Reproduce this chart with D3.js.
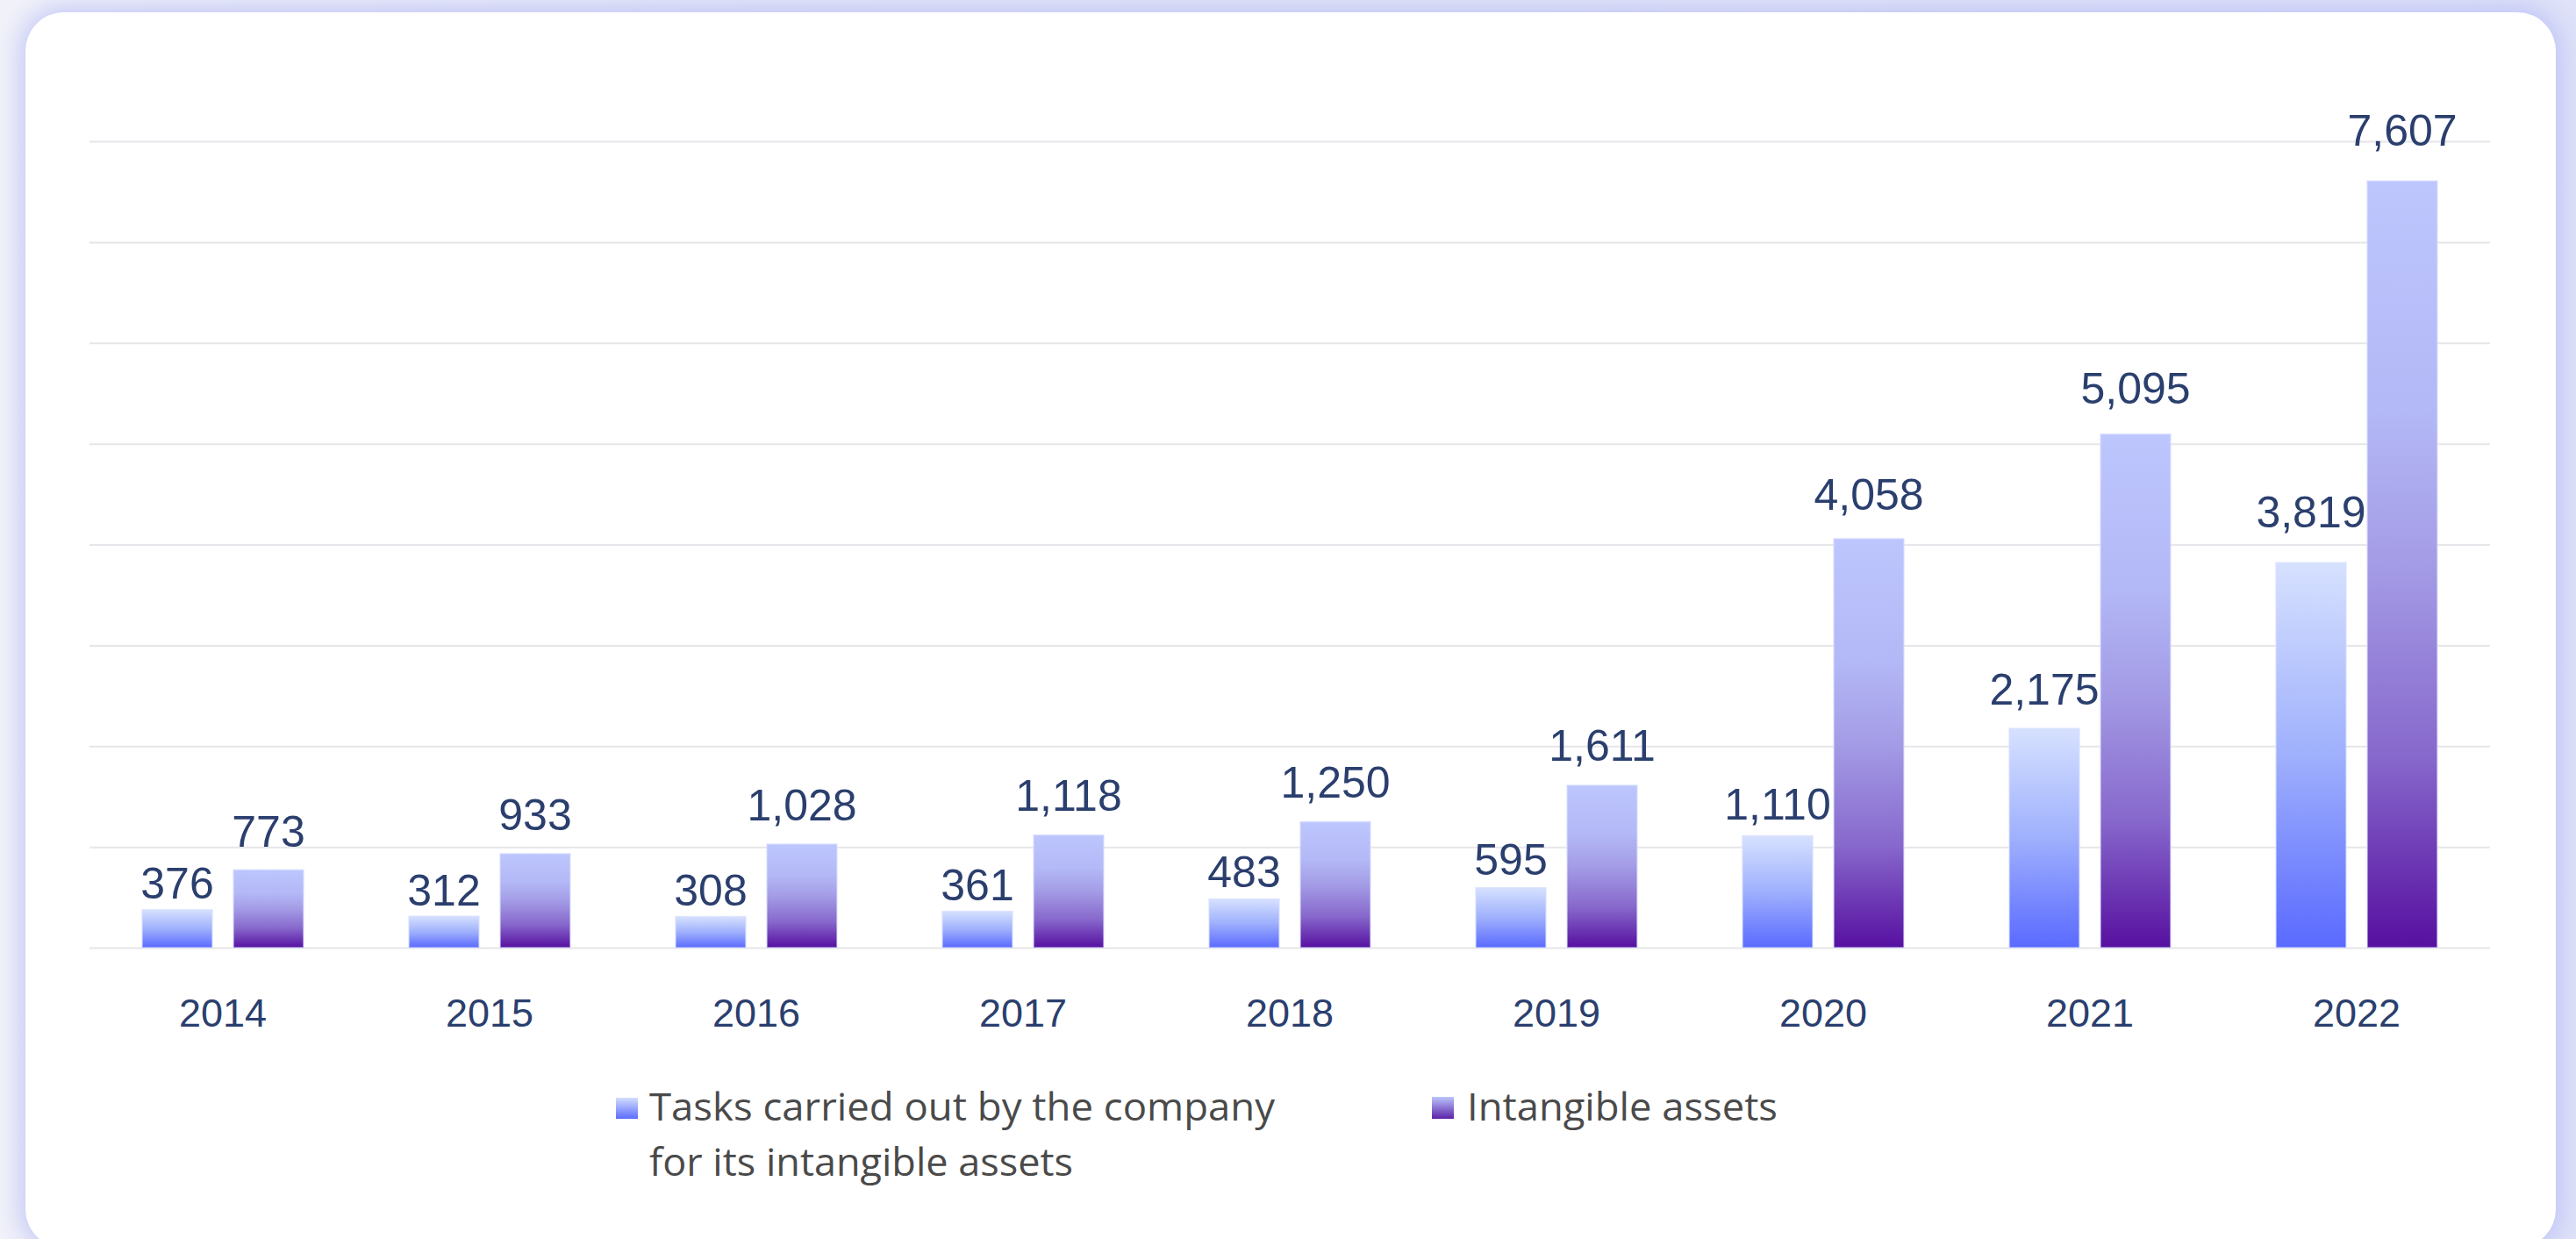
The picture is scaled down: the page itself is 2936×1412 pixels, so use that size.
<!DOCTYPE html>
<html>
<head>
<meta charset="utf-8">
<script src="https://cdn.jsdelivr.net/npm/d3@7"></script>
<style>
  html, body { margin: 0; padding: 0; }
  body {
    width: 2936px; height: 1412px; overflow: hidden;
    background: linear-gradient(90deg, #f1f2f9 0%, #e6e8f7 30%, #e4e6f7 70%, #dfe2f8 100%);
    position: relative;
  }
  #card {
    position: absolute; left: 29px; top: 14px; width: 2884px; height: 1408px;
    background: #ffffff; border-radius: 44px;
    box-shadow: 0 0 28px 6px rgba(180, 186, 245, 0.75);
  }
  svg { position: absolute; left: 0; top: 0; }
</style>
</head>
<body>
<div id="card"></div>
<svg id="chart" width="2936" height="1412"></svg>
<script>
const years = ["2014", "2015", "2016", "2017", "2018", "2019", "2020", "2021", "2022"];
const tasksValues = [376, 312, 308, 361, 483, 595, 1110, 2175, 3819];
const intangibleValues = [773, 933, 1028, 1118, 1250, 1611, 4058, 5095, 7607];
const seriesNames = ["Tasks carried out by the company for its intangible assets", "Intangible assets"];
const yTickValues = [0, 1000, 2000, 3000, 4000, 5000, 6000, 7000, 8000];

(function () {
const svg = d3.select("#chart");
const pLeft = 102, pRight = 2838, pTop = 161, pBottom = 1080;

const x0 = d3.scaleBand().domain(years).range([pLeft, pRight]).padding(0);
const x1 = d3.scaleBand().domain(["tasks", "intangible"]).range([60, 244]).paddingInner(0.2308).paddingOuter(0);
const y = d3.scaleLinear().domain([0, 8000]).range([pBottom, pTop]);

const defs = svg.append("defs");
function grad(id, stops) {
  const g = defs.append("linearGradient").attr("id", id)
    .attr("x1", 0).attr("y1", 0).attr("x2", 0).attr("y2", 1);
  stops.forEach(s => g.append("stop").attr("offset", s[0]).attr("stop-color", s[1]));
}
grad("gTasks", [[0, "#d6e1fe"], [0.5, "#9fb0fd"], [1, "#5a6aff"]]);
grad("gInt", [[0, "#bdc6fd"], [0.3, "#b3b8f6"], [0.5, "#a49ce6"], [0.75, "#8768cc"], [1, "#5710a0"]]);
grad("lgTasks", [[0, "#d3defe"], [1, "#5b6cff"]]);
grad("lgInt", [[0, "#bcc5fd"], [1, "#5a22a8"]]);

// gridlines
const yAxis = d3.axisLeft(y).tickValues(yTickValues).tickSize(-(pRight - pLeft)).tickFormat("");
const ga = svg.append("g").attr("transform", `translate(${pLeft},0)`).call(yAxis);
ga.select(".domain").remove();
ga.selectAll(".tick line").attr("stroke", "#e6e6ea").attr("stroke-width", 2);

// x axis labels
const xAxis = d3.axisBottom(x0).tickSize(0).tickPadding(0);
const gx = svg.append("g").attr("transform", `translate(0,1170)`).call(xAxis);
gx.select(".domain").remove();
gx.selectAll(".tick text")
  .attr("dy", 0).attr("y", 0)
  .attr("font-family", "'Liberation Sans', Arial, sans-serif")
  .attr("font-size", 45).attr("fill", "#2b3f6e");

const series = [
  { key: "tasks", values: tasksValues, fill: "url(#gTasks)", k: 0.0696, c: 10 },
  { key: "intangible", values: intangibleValues, fill: "url(#gInt)", k: 0.0174, c: 25 }
];
const fmt = d3.format(",");

series.forEach(s => {
  const g = svg.append("g");
  const data = years.map((yr, i) => ({ yr, v: s.values[i] }));
  g.selectAll("rect").data(data).join("rect")
    .attr("x", d => x0(d.yr) + x1(s.key))
    .attr("width", x1.bandwidth())
    .attr("y", d => y(d.v))
    .attr("height", d => y(0) - y(d.v))
    .attr("fill", s.fill)
    .attr("stroke", "rgba(215,222,255,0.7)")
    .attr("stroke-width", 1.5);
  g.selectAll("text").data(data).join("text")
    .attr("x", d => x0(d.yr) + x1(s.key) + x1.bandwidth() / 2)
    .attr("y", d => y(d.v * (1 + s.k)) - s.c)
    .attr("text-anchor", "middle")
    .attr("font-family", "'Liberation Sans', Arial, sans-serif")
    .attr("font-size", 50)
    .attr("fill", "#2b3f6e")
    .text(d => fmt(d.v));
});

// legend
const legend = svg.append("g").attr("font-family", "'Open Sans', 'Noto Sans', sans-serif").attr("fill", "#4a4a4a");
legend.append("rect").attr("x", 702).attr("y", 1251).attr("width", 25).attr("height", 24).attr("fill", "url(#lgTasks)");
legend.append("text").attr("x", 740).attr("y", 1277).attr("font-size", 44)
  .attr("textLength", 713).attr("lengthAdjust", "spacingAndGlyphs").text("Tasks carried out by the company");
legend.append("text").attr("x", 740).attr("y", 1340).attr("font-size", 44)
  .attr("textLength", 483).attr("lengthAdjust", "spacingAndGlyphs").text("for its intangible assets");
legend.append("rect").attr("x", 1632).attr("y", 1250).attr("width", 25).attr("height", 25).attr("fill", "url(#lgInt)");
legend.append("text").attr("x", 1672).attr("y", 1277).attr("font-size", 44)
  .attr("textLength", 354).attr("lengthAdjust", "spacingAndGlyphs").text(seriesNames[1]);
})();
</script>
</body>
</html>
